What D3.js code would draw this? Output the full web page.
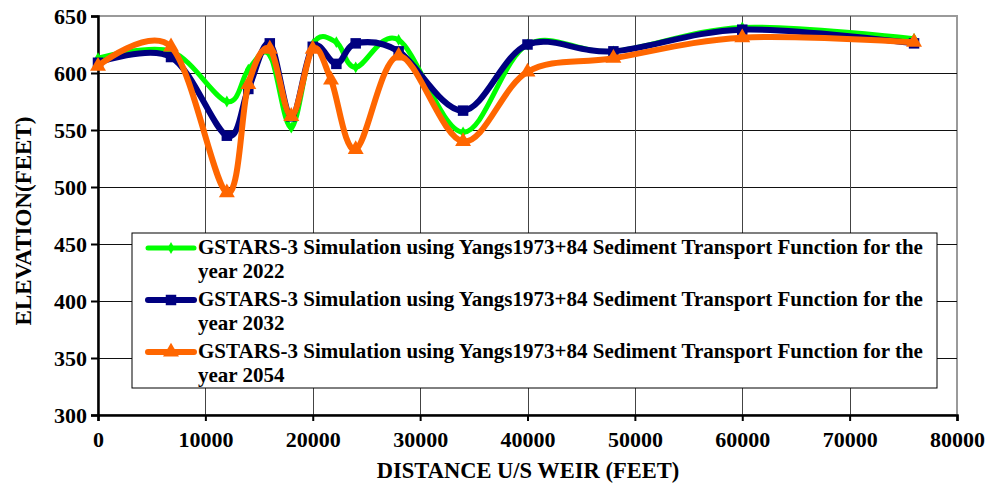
<!DOCTYPE html>
<html>
<head>
<meta charset="utf-8">
<script src="https://cdn.jsdelivr.net/npm/d3@7"></script>
<style>
    body { margin: 0; background: #fff; }
    svg { display: block; }
    text { font-family: "Liberation Serif", "Times New Roman", serif; font-weight: bold; fill: #000; }
</style>
</head>
<body>
<svg id="chart"></svg>
<script>
// distances (ft) and elevations (ft)
const xGreen = [0, 6800, 12000, 14000, 16000, 18000, 20000, 22200, 24000, 28000, 34000, 40000, 48000, 60000, 76000];
const yGreen = [613, 619, 575, 603, 616, 552, 625, 627, 605, 629, 548, 625, 619, 640, 630];
const xBlue = [0, 6800, 12000, 14000, 16000, 18000, 20000, 22200, 24000, 28000, 34000, 40000, 48000, 60000, 76000];
const yBlue = [609, 614, 545, 586, 626, 562, 623, 608, 626, 619, 567, 625, 619, 638, 626];
const xOrange = [0, 6800, 12000, 14000, 16000, 18000, 20000, 21700, 24000, 28000, 34000, 40000, 48000, 60000, 76000];
const yOrange = [606, 623, 495, 590, 621, 562, 621, 594, 533, 615, 540, 601, 613, 631, 627];

const xTicks = [0, 10000, 20000, 30000, 40000, 50000, 60000, 70000, 80000];
const yTicks = [300, 350, 400, 450, 500, 550, 600, 650];

const seriesNames = [
    ["GSTARS-3 Simulation using Yangs1973+84 Sediment Transport Function for the", "year 2022"],
    ["GSTARS-3 Simulation using Yangs1973+84 Sediment Transport Function for the", "year 2032"],
    ["GSTARS-3 Simulation using Yangs1973+84 Sediment Transport Function for the", "year 2054"]
];

const W = 989, H = 486;
const pLeft = 98, pRight = 957, pTop = 16, pBottom = 415;

let svg = d3.select("#chart").attr("width", W).attr("height", H);

let x = d3.scaleLinear().domain([0, 80000]).range([pLeft, pRight]);
let y = d3.scaleLinear().domain([300, 650]).range([pBottom, pTop]);

// plot frame (top/right in grey)
svg.append("rect")
    .attr("x", pLeft).attr("y", pTop)
    .attr("width", pRight - pLeft).attr("height", pBottom - pTop)
    .attr("fill", "none").attr("stroke", "#9a9a9a").attr("stroke-width", 2);

// grid
let grid = svg.append("g");
grid.selectAll("line.h").data(yTicks.slice(1, -1)).enter().append("line")
    .attr("x1", pLeft).attr("x2", pRight)
    .attr("y1", d => Math.round(y(d)) + 0.5).attr("y2", d => Math.round(y(d)) + 0.5)
    .attr("stroke", "#111").attr("stroke-width", 1);
grid.selectAll("line.v").data(xTicks.slice(1, -1)).enter().append("line")
    .attr("y1", pTop).attr("y2", pBottom)
    .attr("x1", d => Math.round(x(d)) + 0.5).attr("x2", d => Math.round(x(d)) + 0.5)
    .attr("stroke", "#444").attr("stroke-width", 1);

// axes
let xAxis = svg.append("g").attr("transform", `translate(0,${pBottom})`)
    .call(d3.axisBottom(x).tickValues(xTicks).tickFormat(d3.format("d")).tickSizeOuter(0).tickSize(6).tickPadding(8));
let yAxis = svg.append("g").attr("transform", `translate(${pLeft},0)`)
    .call(d3.axisLeft(y).tickValues(yTicks).tickFormat(d3.format("d")).tickSizeOuter(0).tickSize(7).tickPadding(4));
[xAxis, yAxis].forEach(a => {
    a.select(".domain").attr("stroke", "#000").attr("stroke-width", 2.5);
    a.selectAll(".tick line").attr("stroke", "#000").attr("stroke-width", 2);
    a.selectAll(".tick text").attr("font-size", 22).attr("fill", "#000")
        .attr("font-family", "Liberation Serif, Times New Roman, serif").attr("font-weight", "bold");
});
xAxis.selectAll(".tick text").attr("dy", "0.8em");
yAxis.selectAll(".tick text").attr("dy", "0.33em");

svg.append("text").attr("x", 528).attr("y", 478)
    .attr("text-anchor", "middle").attr("font-size", 22.5)
    .text("DISTANCE U/S WEIR (FEET)");
svg.append("text").attr("transform", "translate(31,221) rotate(-90)")
    .attr("text-anchor", "middle").attr("font-size", 23)
    .text("ELEVATION(FEET)");

// series (Excel-style smoothing)
let line = d3.line().curve(d3.curveCardinal.tension(0)).x(d => x(d[0])).y(d => y(d[1]));
let series = [
    {xs: xGreen, ys: yGreen, color: "#00ff00", width: 5, marker: d3.symbolDiamond, size: 40},
    {xs: xBlue, ys: yBlue, color: "#000080", width: 6, marker: d3.symbolSquare, size: 110},
    {xs: xOrange, ys: yOrange, color: "#ff6600", width: 6, marker: d3.symbolTriangle, size: 110}
];

let plot = svg.append("g");
series.forEach(s => {
    let pts = d3.zip(s.xs, s.ys);
    plot.append("path").datum(pts)
        .attr("d", line).attr("fill", "none")
        .attr("stroke", s.color).attr("stroke-width", s.width)
        .attr("stroke-linejoin", "round").attr("stroke-linecap", "round");
    plot.selectAll(null).data(pts).enter().append("path")
        .attr("d", d3.symbol(s.marker, s.size))
        .attr("transform", d => `translate(${x(d[0])},${y(d[1])})`)
        .attr("fill", s.color);
});

// legend
let lg = svg.append("g");
lg.append("rect").attr("x", 132).attr("y", 233).attr("width", 805).attr("height", 155)
    .attr("fill", "#fff").attr("stroke", "#000").attr("stroke-width", 1);
let rowY = [248, 300, 352];
series.forEach((s, i) => {
    lg.append("line").attr("x1", 148).attr("x2", 194).attr("y1", rowY[i]).attr("y2", rowY[i])
        .attr("stroke", s.color).attr("stroke-width", s.width).attr("stroke-linecap", "round");
    lg.append("path").attr("d", d3.symbol(s.marker, s.size)())
        .attr("transform", `translate(171,${rowY[i]})`).attr("fill", s.color);
    let t = lg.append("text").attr("x", 198).attr("y", rowY[i] + 6).attr("font-size", 21);
    seriesNames[i].forEach((ln, j) => {
        t.append("tspan").attr("x", 198).attr("dy", j === 0 ? 0 : 24).text(ln);
    });
});
</script>
</body>
</html>
